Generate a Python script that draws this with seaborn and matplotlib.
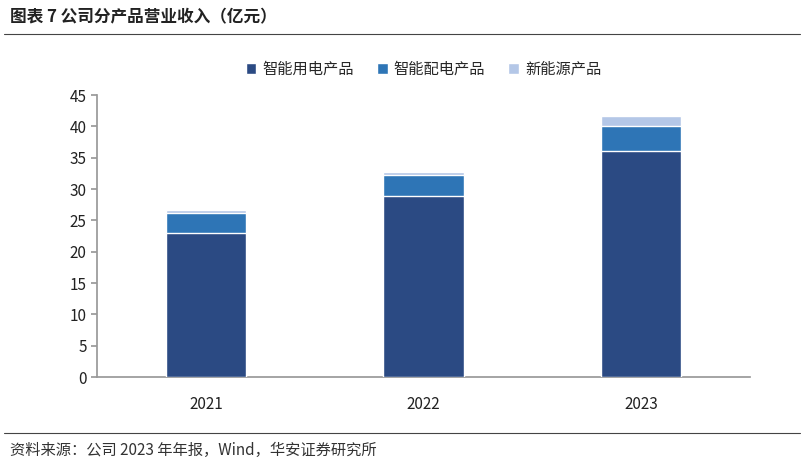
import matplotlib
matplotlib.use("Agg")
import matplotlib.pyplot as plt
import seaborn as sns
import pandas as pd
import numpy as np

years = ["2021", "2022", "2023"]
series = ["智能用电产品", "智能配电产品", "新能源产品"]
smart_use = [23.0, 28.9, 36.0]
smart_dist = [3.2, 3.3, 4.0]
new_energy = [0.4, 0.5, 1.7]
colors = ["#2B4A83", "#2E75B6", "#B4C7E7"]

sns.set_theme(style="white")
plt.rcParams['font.family'] = ['Noto Sans CJK SC', 'DejaVu Sans']

fig = plt.figure(figsize=(8.04, 4.67), dpi=100)
ax = fig.add_axes([97/804, 1-377/467, 653/804, 282/467])

df = pd.DataFrame({"year": years, "a": smart_use, "b": smart_dist, "c": new_energy})
bottoms = np.zeros(len(years))
for col, name, c in zip(["a", "b", "c"], series, colors):
    tmp = df.copy()
    tmp["top"] = bottoms + df[col].values
    sns.barplot(data=tmp, x="year", y="top", color=c, ax=ax, width=0.37,
                label=name, zorder=3 - ["a", "b", "c"].index(col), saturation=1)
    bottoms = bottoms + df[col].values

ax.set_ylim(0, 45)
ax.set_yticks(range(0, 46, 5))
ax.set_xlabel("")
ax.set_ylabel("")
for s in ["top", "right"]:
    ax.spines[s].set_visible(False)
ax.spines["left"].set_color("#999999")
ax.spines["bottom"].set_color("#999999")
ax.tick_params(axis="y", left=True, length=4, color="#999999", labelsize=11, labelcolor="#222222")
ax.tick_params(axis="x", bottom=False, labelsize=11, labelcolor="#222222", pad=8)
ax.legend(loc="upper center", bbox_to_anchor=(0.5, 1.17), ncol=3, frameon=False,
          fontsize=11, handlelength=0.7, handleheight=0.7, columnspacing=1.5, handletextpad=0.4)

fig.text(0.012, 0.962, "图表 7 公司分产品营业收入（亿元）", fontsize=12, fontweight="bold",
         color="#222222", va="center")
fig.add_artist(plt.Line2D([0.005, 0.995], [0.927, 0.927], color="#444444", lw=0.8))
fig.add_artist(plt.Line2D([0.005, 0.995], [0.073, 0.073], color="#444444", lw=0.8))
fig.text(0.012, 0.036, "资料来源：公司 2023 年年报，Wind，华安证券研究所", fontsize=11,
         color="#333333", va="center")

fig.savefig("out.png", dpi=100)
